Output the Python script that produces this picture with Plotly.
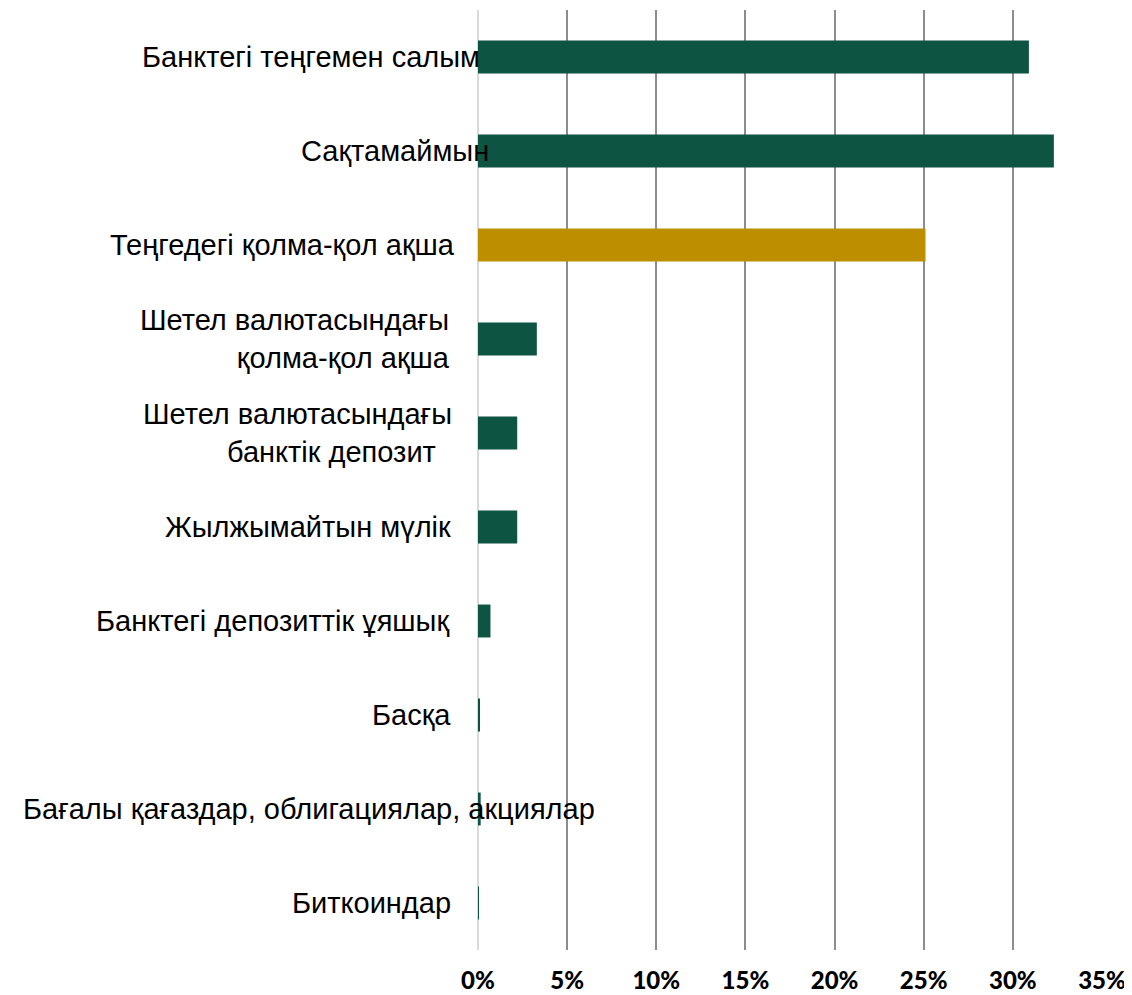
import plotly.graph_objects as go

categories = [
    "Банктегі теңгемен салым",
    "Сақтамаймын",
    "Теңгедегі қолма-қол ақша",
    "Шетел валютасындағы<br>қолма-қол ақша",
    "Шетел валютасындағы<br>банктік депозит&nbsp;&nbsp;",
    "Жылжымайтын мүлік",
    "Банктегі депозиттік ұяшық",
    "Басқа",
    "Бағалы қағаздар, облигациялар, акциялар",
    "Биткоиндар",
]
values = [30.9, 32.3, 25.1, 3.3, 2.2, 2.2, 0.7, 0.1, 0.15, 0.05]
bar_colors = ["#0D5542", "#0D5542", "#BC8E00", "#0D5542", "#0D5542",
              "#0D5542", "#0D5542", "#0D5542", "#0D5542", "#0D5542"]
tick_vals = [0, 5, 10, 15, 20, 25, 30, 35]
tick_text = ["0%", "5%", "10%", "15%", "20%", "25%", "30%", "35%"]

# label placement (pixel offsets from the zero line)
label_shift = [3.5, 12.5, -21.5, -26.5, -24.5, -25.5, -27.5, -25.5, 118.5, -25.5]

ids = list(range(len(categories)))

fig = go.Figure(go.Bar(
    x=values, y=ids, orientation="h",
    marker=dict(color=bar_colors, line=dict(width=0)),
    width=0.35,
    hoverinfo="skip",
))

for i, (cat, sh) in enumerate(zip(categories, label_shift)):
    fig.add_annotation(
        x=0, y=i, xref="x", yref="y", text=cat, showarrow=False,
        xanchor="right", yanchor="middle", xshift=sh, align="right",
        font=dict(family="Liberation Sans, Arial", size=29, color="#000000"),
    )

fig.update_layout(
    width=1132, height=995,
    margin=dict(l=469.5, r=38, t=2, b=53),
    plot_bgcolor="white", paper_bgcolor="white",
    showlegend=False,
    xaxis=dict(
        range=[0, 35], tickvals=tick_vals, ticktext=tick_text,
        showgrid=True, gridcolor="#8C8C8C", gridwidth=1.5,
        zeroline=True, zerolinecolor="#D9D9D9", zerolinewidth=1.5,
        showline=False, ticks="", ticklabelstandoff=14,
        tickfont=dict(family="Lato", size=24, color="#000000", weight=900),
        fixedrange=True, automargin=False,
    ),
    yaxis=dict(
        range=[len(categories) - 0.5, -0.5],
        showticklabels=False, showgrid=False, zeroline=False, showline=False,
        fixedrange=True,
    ),
)

fig.write_html("out.html")
